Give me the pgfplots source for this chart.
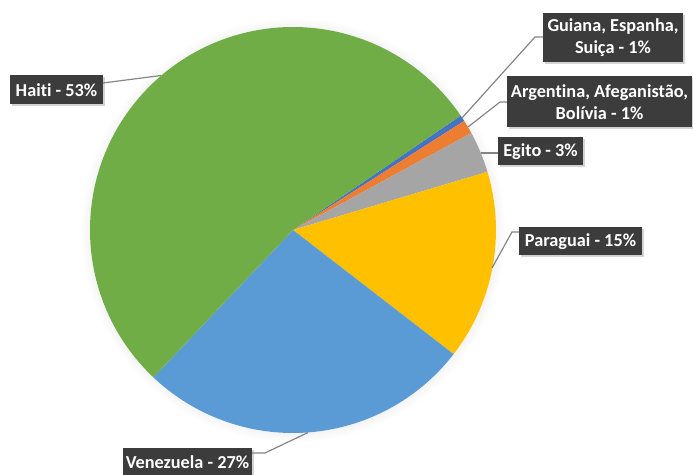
\documentclass[border=0pt]{standalone}
\usepackage{fontspec}
\setmainfont{Carlito}[Ligatures=NoCommon]
\usepackage{pgfplots}
\pgfplotsset{compat=1.18}
\usepackage{pgfplotstable}
\usetikzlibrary{shadows}

\definecolor{cGuiana}{HTML}{4472C4}
\definecolor{cArgentina}{HTML}{ED7D31}
\definecolor{cEgito}{HTML}{A5A5A5}
\definecolor{cParaguai}{HTML}{FFC000}
\definecolor{cVenezuela}{HTML}{5B9BD5}
\definecolor{cHaiti}{HTML}{70AD47}
\definecolor{boxgray}{HTML}{3C3C3C}
\definecolor{leadergray}{HTML}{858585}

% share of each country, clockwise from the first slice
\pgfplotstableread{
name       value  color
Guiana     0.5    cGuiana
Argentina  1.1    cArgentina
Egito      3.3    cEgito
Paraguai   15.1   cParaguai
Venezuela  26.6   cVenezuela
Haiti      53.4   cHaiti
}\piedata

\begin{document}
\begin{tikzpicture}[x=0.75pt,y=0.75pt,
  lbl/.style={text=white,font=\fontsize{13.7}{16.5}\selectfont\bfseries,align=center,inner sep=0pt},
  box/.style={fill=boxgray,drop shadow={shadow xshift=1.5pt,shadow yshift=-1.5pt,opacity=0.35}},
  leader/.style={leadergray,line width=0.9pt}]
\useasboundingbox (0,0) rectangle (693,475);

% soft shadow round the pie
\path[fill=white,circular drop shadow={shadow scale=1.045,shadow xshift=0pt,shadow yshift=0pt,opacity=0.28}] (293,245) circle[radius=203];

\begin{axis}[at={(0,0)},anchor=south west,scale only axis,
  x=152.25pt,y=152.25pt,
  xmin=-1.4433,xmax=1.9704,ymin=-1.2069,ymax=1.1330,
  hide axis,clip=false]
\pgfplotsextra{
  \gdef\angA{34.3}
  \foreach \i in {0,...,5}{
    \pgfplotstablegetelem{\i}{value}\of\piedata \let\sliceval\pgfplotsretval
    \pgfplotstablegetelem{\i}{color}\of\piedata \let\slicecol\pgfplotsretval
    \pgfmathsetmacro\angB{\angA-3.6*\sliceval}
    \fill[\slicecol] (axis cs:0,0) -- (axis cs:{cos(\angA)},{sin(\angA)})
      arc[start angle=\angA,end angle=\angB,radius=152.25pt] -- cycle;
    \xdef\angA{\angB}
  }
}
\end{axis}

% leader lines
\draw[leader] (103,392) -- (161,399.5);
\draw[leader] (543,438) -- (535,438) -- (462,357);
\draw[leader] (507,373) -- (500,373) -- (468,348);
\draw[leader] (481,322) -- (498,322);
\draw[leader] (492,207) -- (512,243) -- (519,243);
\draw[leader] (308,42.5) -- (265,22) -- (252,22);

% label boxes
\path[box] (10,371) rectangle (103,400);
\node[lbl] at (56.5,385) {Haiti - 53\%};
\path[box] (543,413) rectangle (683,462);
\node[lbl] at (613,437) {Guiana, Espanha,\\Suiça - 1\%};
\path[box] (507,348) rectangle (692,399);
\node[lbl] at (599.5,373) {Argentina, Afeganistão,\\Bolívia - 1\%};
\path[box] (498,310) rectangle (583,338);
\node[lbl] at (540.5,323.5) {Egito - 3\%};
\path[box] (519,220) rectangle (642,248);
\node[lbl] at (580.5,233.5) {Paraguai - 15\%};
\path[box] (123,-3) rectangle (252,27);
\node[lbl] at (187.5,13) {Venezuela - 27\%};
\end{tikzpicture}
\end{document}
